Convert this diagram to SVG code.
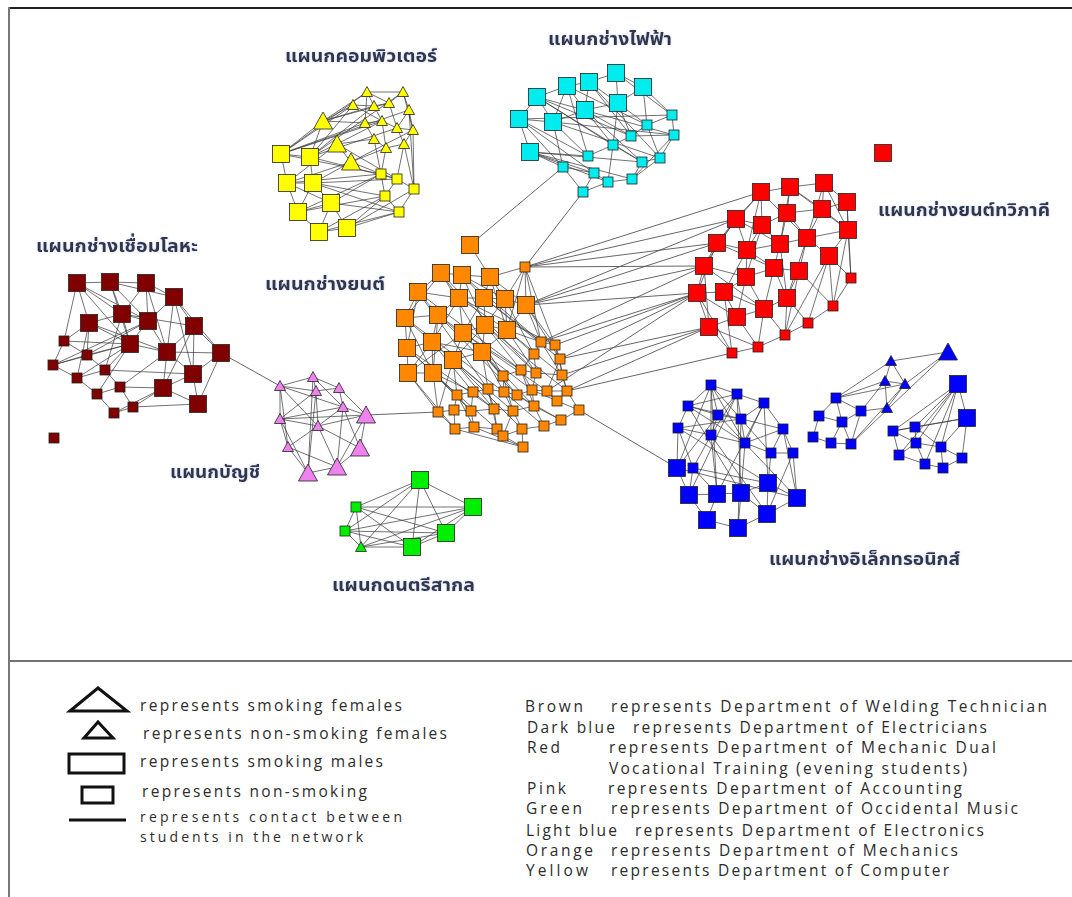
<svg xmlns="http://www.w3.org/2000/svg" xmlns:xlink="http://www.w3.org/1999/xlink" width="1072" height="897" viewBox="0 0 1072 897">
<style>
  .e { fill: none; stroke: #3a3a3a; stroke-width: 0.9; stroke-opacity: 0.8; }
  .x { fill: none; stroke: #555; stroke-width: 0.9; }
  .nd use { stroke: #222; stroke-width: 0.8; }
  .yel { fill: #ffff00; }
  .cya { fill: #00ecef; }
  .red { fill: #ff0000; }
  .brn { fill: #800000; }
  .org { fill: #ff8800; }
  .pnk { fill: #ee82ee; }
  .grn { fill: #00ee00; }
  .blu { fill: #0000ff; }
  .th { font-family: "Noto Sans Thai", "Noto Serif Thai", "Tlwg Typo", "Garuda", "DejaVu Sans", sans-serif; font-weight: bold; font-size: 18px; fill: #34344a; filter: url(#halo); }
  .lg { font-family: "Open Sans", "Liberation Sans", sans-serif; font-size: 15.5px; font-weight: 500; fill: #2c2c2c; }
  .lg.sm { font-size: 14px; }
  .sym { fill: none; stroke: #111; stroke-width: 3; }
</style>
<defs>
  <rect id="sqL" x="-8.5" y="-8.5" width="17" height="17"/>
  <rect id="sqS" x="-5" y="-5" width="10" height="10"/>
  <path id="trL" d="M0,-9 L9.5,8 L-9.5,8 Z"/>
  <path id="trS" d="M0,-5.5 L5.5,4.5 L-5.5,4.5 Z"/>
  <filter id="halo" x="-5%" y="-30%" width="110%" height="160%">
    <feDropShadow dx="0" dy="0" stdDeviation="1" flood-color="#9fb8e6" flood-opacity="0.7"/>
  </filter>
</defs>

<rect width="1072" height="897" fill="#fff"/>

<!-- frame and divider -->
<g id="frame">
  <line x1="9" y1="8" x2="1072" y2="8" stroke="#222" stroke-width="2"/>
  <line x1="9" y1="7" x2="9" y2="897" stroke="#777" stroke-width="2"/>
  <line x1="10" y1="661" x2="1072" y2="661" stroke="#444" stroke-width="1.5"/>
</g>

<!-- connectors -->
<g id="connectors">
  <!-- computer cluster -->
  <path class="e" d="M281 154L323 121M281 154L353 105M281 154L365 123M281 154L310 157M281 154L287 183M281 154L381 174M281 154L382 121M310 157L323 121M310 157L353 105M310 157L374 106M310 157L313 183M310 157L337 144M310 157L397 179M287 183L313 183M287 183L298 212M287 183L337 144M287 183L381 174M313 183L331 203M313 183L351 162M313 183L385 196M313 183L397 179M331 203L319 232M331 203L347 228M331 203L381 174M331 203L399 212M298 212L319 232M298 212L313 183M298 212L385 196M319 232L347 228M319 232L399 212M347 228L385 196M347 228L399 212M347 228L414 189M323 121L353 105M323 121L374 106M323 121L365 123M323 121L367 92M337 144L382 121M337 144L374 139M337 144L351 162M351 162L381 174M351 162L386 148M367 92L403 92M367 92L374 106M367 92L389 103M403 92L409 110M403 92L389 103M353 105L374 106M374 106L389 103M374 106L382 121M389 103L397 128M409 110L413 130M365 123L382 121M382 121L397 128M397 128L413 130M365 123L374 139M382 121L386 148M397 128L404 144M413 130L404 144M374 139L386 148M386 148L404 144M386 148L381 174M404 144L397 179M404 144L414 189M413 130L414 189M381 174L397 179M397 179L414 189M397 179L385 196M385 196L399 212M414 189L399 212M374 139L381 174M409 110L397 128M353 105L382 121M367 92L365 123M403 92L413 130M409 110L414 189M281 154L367 92M310 157L397 128M323 121L389 103M287 183L351 162M298 212L331 203M287 183L331 203M381 174L385 196M313 183L399 212M298 212L381 174M319 232L385 196M281 154L409 110M310 157L403 92M337 144L397 179M351 162L413 130"/>
  <!-- electrical cluster -->
  <path class="e" d="M537 97L567 86M537 97L519 119M537 97L553 122M537 97L613 145M537 97L631 136M567 86L589 82M567 86L585 110M567 86L553 122M589 82L616 73M589 82L585 110M589 82L618 103M616 73L643 87M616 73L618 103M643 87L672 115M643 87L647 125M643 87L618 103M519 119L553 122M519 119L530 152M519 119L563 167M519 119L588 156M553 122L585 110M553 122L588 156M553 122L563 167M585 110L618 103M585 110L613 145M585 110L631 136M618 103L647 125M618 103L631 136M618 103L613 145M530 152L563 167M530 152L588 156M530 152L594 173M530 152L642 162M672 115L647 125M672 115L674 135M647 125L631 136M631 136L674 135M631 136L613 145M674 135L660 158M613 145L588 156M613 145L642 162M642 162L660 158M642 162L632 179M660 158L632 179M563 167L583 192M563 167L594 173M594 173L608 182M608 182L632 179M608 182L583 192M594 173L583 192M632 179L674 135M647 125L660 158M567 86L588 156M537 97L642 162M589 82L631 136M616 73L672 115M519 119L672 115M553 122L674 135M585 110L642 162M613 145L608 182M519 119L594 173M530 152L632 179M553 122L660 158M567 86L647 125M537 97L674 135M589 82L660 158M530 152L608 182"/>
  <!-- mechanic dual vocational cluster -->
  <path class="e" d="M761 192L790 187M790 187L824 183M824 183L847 202M761 192L736 219M761 192L762 225M790 187L787 213M824 183L822 209M847 202L848 230M847 202L822 209M736 219L762 225M762 225L787 213M787 213L822 209M822 209L848 230M736 219L717 243M762 225L747 250M787 213L780 244M822 209L807 238M848 230L829 256M717 243L747 250M747 250L780 244M780 244L807 238M807 238L829 256M717 243L704 266M747 250L746 277M780 244L774 268M807 238L799 271M829 256L851 278M704 266L746 277M746 277L774 268M774 268L799 271M704 266L697 293M746 277L724 292M774 268L787 298M799 271L787 298M697 293L724 292M724 292L764 309M787 298L764 309M697 293L709 327M724 292L737 317M764 309L737 317M737 317L709 327M709 327L732 353M737 317L758 347M764 309L785 335M787 298L808 323M799 271L833 306M829 256L833 306M851 278L833 306M833 306L808 323M808 323L785 335M785 335L758 347M758 347L732 353M848 230L851 278M847 202L851 278M761 192L747 250M790 187L780 244M824 183L807 238M736 219L704 266M762 225L746 277M717 243L697 293M747 250L724 292M780 244L787 298M807 238L787 298M774 268L764 309M746 277L737 317M704 266L709 327M724 292L732 353M764 309L758 347M787 298L785 335M829 256L808 323M848 230L833 306M761 192L717 243M824 183L848 230M790 187L822 209M762 225L780 244M787 213L807 238M747 250L774 268M746 277L764 309M697 293L732 353M709 327L758 347M829 256L785 335M799 271L785 335M848 230L807 238M736 219L747 250M761 192L807 238M736 219L780 244M717 243L774 268M704 266L764 309M697 293L737 317M790 187L848 230"/>
  <!-- welding cluster -->
  <path class="e" d="M77 283L110 282M77 283L89 323M77 283L122 314M77 283L130 344M110 282L146 283M110 282L122 314M110 282L130 344M146 283L174 297M146 283L148 321M146 283L122 314M174 297L194 326M174 297L148 321M174 297L167 352M89 323L122 314M89 323L64 341M89 323L87 355M89 323L130 344M122 314L148 321M122 314L130 344M148 321L167 352M148 321L130 344M194 326L167 352M194 326L221 353M194 326L193 374M130 344L167 352M130 344L105 370M130 344L87 355M167 352L193 374M167 352L163 388M221 353L193 374M221 353L167 352M193 374L163 388M193 374L198 404M163 388L198 404M163 388L133 407M163 388L120 387M64 341L87 355M64 341L53 365M87 355L53 365M87 355L105 370M53 365L77 378M105 370L77 378M105 370L120 387M77 378L97 394M120 387L97 394M120 387L133 407M97 394L114 413M133 407L114 413M53 365L130 344M77 378L130 344M167 352L120 387M198 404L133 407M193 374L105 370M77 283L64 341M122 314L105 370M148 321L87 355M146 283L167 352M174 297L193 374M221 353L198 404M114 413L163 388M89 323L77 378M130 344L97 394M110 282L148 321M194 326L163 388M53 365L148 321M174 297L221 353M77 283L148 321M110 282L174 297M89 323L167 352M122 314L194 326M64 341L130 344"/>
  <!-- mechanics cluster -->
  <path class="e" d="M470 245L490 277M441 273L462 275M441 273L418 292M441 273L459 298M462 275L490 277M462 275L459 298M462 275L484 298M490 277L505 299M490 277L484 298M490 277L525 267M418 292L405 318M418 292L438 315M418 292L459 298M459 298L484 298M459 298L463 333M459 298L438 315M484 298L505 299M484 298L485 325M505 299L526 305M505 299L507 330M526 305L525 267M526 305L541 342M526 305L507 330M405 318L438 315M405 318L407 348M438 315L463 333M438 315L432 342M463 333L485 325M463 333L453 360M485 325L507 330M485 325L482 352M507 330L541 342M507 330L534 354M407 348L432 342M407 348L408 373M432 342L453 360M432 342L433 373M453 360L482 352M453 360L457 395M482 352L503 376M482 352L488 389M408 373L433 373M408 373L438 412M433 373L457 395M433 373L438 412M541 342L555 345M541 342L534 354M555 345L560 359M534 354L521 370M534 354L536 373M560 359L562 375M521 370L503 376M521 370L536 373M503 376L504 392M536 373L562 375M536 373L532 390M562 375L567 391M457 395L473 392M473 392L488 389M488 389L504 392M504 392L517 395M517 395L532 390M532 390L547 391M547 391L567 391M567 391L557 401M547 391L557 401M457 395L454 410M473 392L471 411M488 389L494 409M504 392L513 411M517 395L534 406M532 390L534 406M557 401L579 410M567 391L579 410M438 412L454 410M454 410L471 411M471 411L494 409M494 409L513 411M513 411L534 406M534 406L544 426M438 412L455 429M454 410L455 429M471 411L474 427M494 409L497 429M513 411L522 429M513 411L503 436M455 429L474 427M474 427L497 429M497 429L503 436M503 436L522 429M522 429L544 426M544 426L561 420M561 420L579 410M503 436L523 447M522 429L523 447M474 427L523 447M455 429L523 447"/>
  <path class="e" d="M441 273L503 376M418 292L488 389M405 318L433 373M438 315L482 352M463 333L521 370M485 325L536 373M432 342L473 392M407 348L457 395M462 275L485 325M459 298L507 330M484 298L541 342M505 299L534 354M525 267L507 330M525 267L555 345M525 267L505 299M526 305L560 359M507 330L562 375M482 352L517 395M453 360L494 409M433 373L471 411M463 333L408 373M485 325L453 360M432 342L482 352M438 315L433 373M441 273L405 318M418 292L407 348M459 298L432 342M484 298L463 333M505 299L485 325M490 277L526 305M462 275L505 299M507 330L482 352M482 352L504 392M453 360L488 389M433 373L473 392M408 373L432 342M503 376L513 411M521 370L532 390M488 389L497 429M473 392L494 409M457 395L474 427M463 333L503 376M485 325L521 370M405 318L432 342M407 348L433 373M526 305L555 345M507 330L536 373M482 352L532 390M541 342L562 375M555 345L567 391M560 359L547 391M521 370L534 406M504 392L544 426M457 395L471 411M453 360L438 412M408 373L455 429M517 395L561 420M534 406L561 420M532 390L557 401M441 273L536 373M418 292L521 370M405 318L504 392M438 315L517 395M462 275L541 342M459 298L555 345M432 342L513 411M407 348L494 409M484 298L560 359M463 333L547 391M485 325L567 391M453 360L522 429M482 352L534 406M433 373L497 429M525 267L541 342M490 277L507 330"/>
  <!-- accounting cluster -->
  <path class="e" d="M280 386L313 377M280 386L316 391M280 386L280 419M280 386L318 426M280 386L343 407M313 377L339 388M313 377L316 391M313 377L308 473M313 377L343 407M339 388L343 407M339 388L316 391M316 391L280 419M316 391L318 426M316 391L308 473M343 407L366 415M343 407L360 448M343 407L318 426M343 407L280 419M280 419L318 426M280 419L288 447M280 419L366 415M280 419L308 473M318 426L337 467M318 426L288 447M318 426L366 415M288 447L308 473M288 447L337 467M366 415L360 448M360 448L337 467M337 467L308 473M366 415L337 467M343 407L337 467M318 426L360 448M339 388L366 415M280 386L288 447"/>
  <!-- occidental music cluster -->
  <path class="e" d="M356 507L420 480M356 507L473 507M356 507L446 533M356 507L412 547M356 507L345 531M356 507L361 547M345 531L420 480M345 531L473 507M345 531L412 547M345 531L361 547M345 531L446 533M361 547L420 480M361 547L412 547M361 547L446 533M361 547L473 507M420 480L473 507M420 480L446 533M420 480L412 547M473 507L446 533M473 507L412 547M446 533L412 547"/>
  <!-- electronics clusters -->
  <path class="e" d="M711 385L688 406M711 385L737 394M711 385L718 415M711 385L741 419M711 385L711 435M711 385L745 443M688 406L678 428M688 406L718 415M688 406L737 394M737 394L764 403M737 394L741 419M737 394L718 415M764 403L783 429M764 403L741 419M764 403L745 443M718 415L711 435M718 415L741 419M741 419L745 443M741 419L771 453M678 428L711 435M678 428L677 468M678 428L693 468M711 435L693 468M711 435L717 494M711 435L745 443M783 429L793 453M783 429L771 453M745 443L771 453M771 453L793 453M793 453L797 498M771 453L768 483M745 443L741 493M693 468L689 495M693 468L717 494M677 468L689 495M689 495L717 494M717 494L741 493M741 493L768 483M768 483L797 498M689 495L707 520M707 520L738 528M738 528L767 514M767 514L797 498M741 493L738 528M717 494L707 520M741 493L767 514M768 483L767 514M688 406L741 493M678 428L768 483M737 394L711 435M711 385L717 494M764 403L768 483M783 429L797 498M678 428L741 419M688 406L745 443M718 415L677 468M741 419L738 528M793 453L767 514M737 394L741 493M783 429L745 443M677 468L797 498M693 468L768 483M688 406L783 429M711 385L677 468M718 415L797 498M764 403L717 494M737 394L689 495M711 435L767 514"/>
  <path class="e" d="M948 352L891 361M948 352L905 384M948 352L851 444M891 361L885 381M891 361L905 384M885 381L905 384M885 381L836 398M905 384L836 398M905 384L887 408M885 381L887 408M887 408L861 411M885 381L861 411M836 398L861 411M836 398L842 422M836 398L819 416M861 411L842 422M861 411L851 444M842 422L819 416M819 416L813 437M813 437L831 443M831 443L851 444M842 422L851 444M842 422L831 443M905 384L851 444M891 361L836 398"/>
  <path class="e" d="M958 384L893 431M958 384L915 427M958 384L916 443M958 384L941 447M958 384L967 418M958 384L899 455M967 418L962 458M967 418L893 431M967 418L915 427M967 418L941 447M893 431L915 427M893 431L916 443M893 431L899 455M915 427L916 443M916 443L941 447M916 443L925 464M941 447L943 468M941 447L962 458M899 455L925 464M925 464L943 468M943 468L962 458M915 427L941 447M899 455L916 443M958 384L925 464"/>
  <!-- links between departments -->
  <path class="x" d="M221 353L280 386M366 415L438 412M470 245L563 167M525 267L583 192M579 410L677 468"/>
  <path class="x" d="M525 267L761 192M525 267L736 219M525 267L717 243M525 267L704 266M526 305L736 219M526 305L717 243M526 305L704 266M526 305L697 293M541 342L704 266M541 342L697 293M555 345L697 293M560 359L697 293M560 359L709 327M562 375L709 327M567 391L709 327M567 391L732 353M547 391L697 293"/>
</g>

<!-- computer -->
<g id="dept-computer" class="nd yel">
  <g id="y-t1"><use href="#trS" x="367" y="92"/></g>
  <g id="y-t2"><use href="#trS" x="403" y="92"/></g>
  <g id="y-t3"><use href="#trS" x="353" y="105"/></g>
  <g id="y-t4"><use href="#trS" x="374" y="106"/></g>
  <g id="y-t5"><use href="#trS" x="389" y="103"/></g>
  <g id="y-t6"><use href="#trS" x="409" y="110"/></g>
  <g id="y-t7"><use href="#trS" x="365" y="123"/></g>
  <g id="y-t8"><use href="#trS" x="382" y="121"/></g>
  <g id="y-t9"><use href="#trS" x="397" y="128"/></g>
  <g id="y-t10"><use href="#trS" x="413" y="130"/></g>
  <g id="y-t11"><use href="#trS" x="374" y="139"/></g>
  <g id="y-t12"><use href="#trS" x="386" y="148"/></g>
  <g id="y-t13"><use href="#trS" x="404" y="144"/></g>
  <g id="y-T1"><use href="#trL" x="323" y="121"/></g>
  <g id="y-T2"><use href="#trL" x="337" y="144"/></g>
  <g id="y-T3"><use href="#trL" x="351" y="162"/></g>
  <g id="y-S1"><use href="#sqL" x="281" y="154"/></g>
  <g id="y-S2"><use href="#sqL" x="310" y="157"/></g>
  <g id="y-S3"><use href="#sqL" x="287" y="183"/></g>
  <g id="y-S4"><use href="#sqL" x="313" y="183"/></g>
  <g id="y-S5"><use href="#sqL" x="331" y="203"/></g>
  <g id="y-S6"><use href="#sqL" x="298" y="212"/></g>
  <g id="y-S7"><use href="#sqL" x="319" y="232"/></g>
  <g id="y-S8"><use href="#sqL" x="347" y="228"/></g>
  <g id="y-s1"><use href="#sqS" x="381" y="174"/></g>
  <g id="y-s2"><use href="#sqS" x="397" y="179"/></g>
  <g id="y-s3"><use href="#sqS" x="414" y="189"/></g>
  <g id="y-s4"><use href="#sqS" x="385" y="196"/></g>
  <g id="y-s5"><use href="#sqS" x="399" y="212"/></g>
</g>

<!-- electrical -->
<g id="dept-electrical" class="nd cya">
  <g id="c-S1"><use href="#sqL" x="537" y="97"/></g>
  <g id="c-S2"><use href="#sqL" x="567" y="86"/></g>
  <g id="c-S3"><use href="#sqL" x="589" y="82"/></g>
  <g id="c-S4"><use href="#sqL" x="616" y="73"/></g>
  <g id="c-S5"><use href="#sqL" x="643" y="87"/></g>
  <g id="c-S6"><use href="#sqL" x="519" y="119"/></g>
  <g id="c-S7"><use href="#sqL" x="553" y="122"/></g>
  <g id="c-S8"><use href="#sqL" x="585" y="110"/></g>
  <g id="c-S9"><use href="#sqL" x="618" y="103"/></g>
  <g id="c-S10"><use href="#sqL" x="530" y="152"/></g>
  <g id="c-s1"><use href="#sqS" x="672" y="115"/></g>
  <g id="c-s2"><use href="#sqS" x="647" y="125"/></g>
  <g id="c-s3"><use href="#sqS" x="631" y="136"/></g>
  <g id="c-s4"><use href="#sqS" x="674" y="135"/></g>
  <g id="c-s5"><use href="#sqS" x="613" y="145"/></g>
  <g id="c-s6"><use href="#sqS" x="588" y="156"/></g>
  <g id="c-s7"><use href="#sqS" x="642" y="162"/></g>
  <g id="c-s8"><use href="#sqS" x="660" y="158"/></g>
  <g id="c-s9"><use href="#sqS" x="563" y="167"/></g>
  <g id="c-s10"><use href="#sqS" x="594" y="173"/></g>
  <g id="c-s11"><use href="#sqS" x="608" y="182"/></g>
  <g id="c-s12"><use href="#sqS" x="632" y="179"/></g>
  <g id="c-s13"><use href="#sqS" x="583" y="192"/></g>
</g>

<!-- mechanic dual vocational -->
<g id="dept-dual" class="nd red">
  <g id="r-S0"><use href="#sqL" x="883" y="153"/></g>
  <g id="r-S1"><use href="#sqL" x="761" y="192"/></g>
  <g id="r-S2"><use href="#sqL" x="790" y="187"/></g>
  <g id="r-S3"><use href="#sqL" x="824" y="183"/></g>
  <g id="r-S4"><use href="#sqL" x="847" y="202"/></g>
  <g id="r-S5"><use href="#sqL" x="736" y="219"/></g>
  <g id="r-S6"><use href="#sqL" x="762" y="225"/></g>
  <g id="r-S7"><use href="#sqL" x="787" y="213"/></g>
  <g id="r-S8"><use href="#sqL" x="822" y="209"/></g>
  <g id="r-S9"><use href="#sqL" x="848" y="230"/></g>
  <g id="r-S10"><use href="#sqL" x="717" y="243"/></g>
  <g id="r-S11"><use href="#sqL" x="747" y="250"/></g>
  <g id="r-S12"><use href="#sqL" x="780" y="244"/></g>
  <g id="r-S13"><use href="#sqL" x="807" y="238"/></g>
  <g id="r-S14"><use href="#sqL" x="829" y="256"/></g>
  <g id="r-S15"><use href="#sqL" x="704" y="266"/></g>
  <g id="r-S16"><use href="#sqL" x="746" y="277"/></g>
  <g id="r-S17"><use href="#sqL" x="774" y="268"/></g>
  <g id="r-S18"><use href="#sqL" x="799" y="271"/></g>
  <g id="r-S19"><use href="#sqL" x="697" y="293"/></g>
  <g id="r-S20"><use href="#sqL" x="724" y="292"/></g>
  <g id="r-S21"><use href="#sqL" x="787" y="298"/></g>
  <g id="r-S22"><use href="#sqL" x="764" y="309"/></g>
  <g id="r-S23"><use href="#sqL" x="737" y="317"/></g>
  <g id="r-S24"><use href="#sqL" x="709" y="327"/></g>
  <g id="r-s1"><use href="#sqS" x="851" y="278"/></g>
  <g id="r-s2"><use href="#sqS" x="833" y="306"/></g>
  <g id="r-s3"><use href="#sqS" x="808" y="323"/></g>
  <g id="r-s4"><use href="#sqS" x="785" y="335"/></g>
  <g id="r-s5"><use href="#sqS" x="758" y="347"/></g>
  <g id="r-s6"><use href="#sqS" x="732" y="353"/></g>
</g>

<!-- welding -->
<g id="dept-welding" class="nd brn">
  <g id="b-S1"><use href="#sqL" x="77" y="283"/></g>
  <g id="b-S2"><use href="#sqL" x="110" y="282"/></g>
  <g id="b-S3"><use href="#sqL" x="146" y="283"/></g>
  <g id="b-S4"><use href="#sqL" x="174" y="297"/></g>
  <g id="b-S5"><use href="#sqL" x="89" y="323"/></g>
  <g id="b-S6"><use href="#sqL" x="122" y="314"/></g>
  <g id="b-S7"><use href="#sqL" x="148" y="321"/></g>
  <g id="b-S8"><use href="#sqL" x="194" y="326"/></g>
  <g id="b-S9"><use href="#sqL" x="130" y="344"/></g>
  <g id="b-S10"><use href="#sqL" x="167" y="352"/></g>
  <g id="b-S11"><use href="#sqL" x="221" y="353"/></g>
  <g id="b-S12"><use href="#sqL" x="193" y="374"/></g>
  <g id="b-S13"><use href="#sqL" x="163" y="388"/></g>
  <g id="b-S14"><use href="#sqL" x="198" y="404"/></g>
  <g id="b-s1"><use href="#sqS" x="64" y="341"/></g>
  <g id="b-s2"><use href="#sqS" x="87" y="355"/></g>
  <g id="b-s3"><use href="#sqS" x="53" y="365"/></g>
  <g id="b-s4"><use href="#sqS" x="105" y="370"/></g>
  <g id="b-s5"><use href="#sqS" x="77" y="378"/></g>
  <g id="b-s6"><use href="#sqS" x="120" y="387"/></g>
  <g id="b-s7"><use href="#sqS" x="97" y="394"/></g>
  <g id="b-s8"><use href="#sqS" x="133" y="407"/></g>
  <g id="b-s9"><use href="#sqS" x="114" y="413"/></g>
  <g id="b-s10"><use href="#sqS" x="54" y="438"/></g>
</g>

<!-- mechanics -->
<g id="dept-mechanics" class="nd org">
  <g id="o-S1"><use href="#sqL" x="470" y="245"/></g>
  <g id="o-S2"><use href="#sqL" x="441" y="273"/></g>
  <g id="o-S3"><use href="#sqL" x="462" y="275"/></g>
  <g id="o-S4"><use href="#sqL" x="490" y="277"/></g>
  <g id="o-S5"><use href="#sqL" x="418" y="292"/></g>
  <g id="o-S6"><use href="#sqL" x="459" y="298"/></g>
  <g id="o-S7"><use href="#sqL" x="484" y="298"/></g>
  <g id="o-S8"><use href="#sqL" x="505" y="299"/></g>
  <g id="o-S9"><use href="#sqL" x="526" y="305"/></g>
  <g id="o-S10"><use href="#sqL" x="405" y="318"/></g>
  <g id="o-S11"><use href="#sqL" x="438" y="315"/></g>
  <g id="o-S12"><use href="#sqL" x="463" y="333"/></g>
  <g id="o-S13"><use href="#sqL" x="485" y="325"/></g>
  <g id="o-S14"><use href="#sqL" x="507" y="330"/></g>
  <g id="o-S15"><use href="#sqL" x="407" y="348"/></g>
  <g id="o-S16"><use href="#sqL" x="432" y="342"/></g>
  <g id="o-S17"><use href="#sqL" x="453" y="360"/></g>
  <g id="o-S18"><use href="#sqL" x="482" y="352"/></g>
  <g id="o-S19"><use href="#sqL" x="408" y="373"/></g>
  <g id="o-S20"><use href="#sqL" x="433" y="373"/></g>
  <g id="o-s1"><use href="#sqS" x="525" y="267"/></g>
  <g id="o-s2"><use href="#sqS" x="541" y="342"/></g>
  <g id="o-s3"><use href="#sqS" x="555" y="345"/></g>
  <g id="o-s4"><use href="#sqS" x="534" y="354"/></g>
  <g id="o-s5"><use href="#sqS" x="560" y="359"/></g>
  <g id="o-s6"><use href="#sqS" x="521" y="370"/></g>
  <g id="o-s7"><use href="#sqS" x="503" y="376"/></g>
  <g id="o-s8"><use href="#sqS" x="536" y="373"/></g>
  <g id="o-s9"><use href="#sqS" x="562" y="375"/></g>
  <g id="o-s10"><use href="#sqS" x="457" y="395"/></g>
  <g id="o-s11"><use href="#sqS" x="473" y="392"/></g>
  <g id="o-s12"><use href="#sqS" x="488" y="389"/></g>
  <g id="o-s13"><use href="#sqS" x="504" y="392"/></g>
  <g id="o-s14"><use href="#sqS" x="517" y="395"/></g>
  <g id="o-s15"><use href="#sqS" x="532" y="390"/></g>
  <g id="o-s16"><use href="#sqS" x="547" y="391"/></g>
  <g id="o-s17"><use href="#sqS" x="567" y="391"/></g>
  <g id="o-s18"><use href="#sqS" x="557" y="401"/></g>
  <g id="o-s19"><use href="#sqS" x="438" y="412"/></g>
  <g id="o-s20"><use href="#sqS" x="454" y="410"/></g>
  <g id="o-s21"><use href="#sqS" x="471" y="411"/></g>
  <g id="o-s22"><use href="#sqS" x="494" y="409"/></g>
  <g id="o-s23"><use href="#sqS" x="513" y="411"/></g>
  <g id="o-s24"><use href="#sqS" x="534" y="406"/></g>
  <g id="o-s25"><use href="#sqS" x="579" y="410"/></g>
  <g id="o-s26"><use href="#sqS" x="455" y="429"/></g>
  <g id="o-s27"><use href="#sqS" x="474" y="427"/></g>
  <g id="o-s28"><use href="#sqS" x="497" y="429"/></g>
  <g id="o-s29"><use href="#sqS" x="503" y="436"/></g>
  <g id="o-s30"><use href="#sqS" x="522" y="429"/></g>
  <g id="o-s31"><use href="#sqS" x="544" y="426"/></g>
  <g id="o-s32"><use href="#sqS" x="561" y="420"/></g>
  <g id="o-s33"><use href="#sqS" x="523" y="447"/></g>
</g>

<!-- accounting -->
<g id="dept-accounting" class="nd pnk">
  <g id="p-t1"><use href="#trS" x="280" y="386"/></g>
  <g id="p-t2"><use href="#trS" x="313" y="377"/></g>
  <g id="p-t3"><use href="#trS" x="339" y="388"/></g>
  <g id="p-t4"><use href="#trS" x="316" y="391"/></g>
  <g id="p-t5"><use href="#trS" x="343" y="407"/></g>
  <g id="p-t6"><use href="#trS" x="280" y="419"/></g>
  <g id="p-t7"><use href="#trS" x="318" y="426"/></g>
  <g id="p-t8"><use href="#trS" x="288" y="447"/></g>
  <g id="p-T1"><use href="#trL" x="366" y="415"/></g>
  <g id="p-T2"><use href="#trL" x="360" y="448"/></g>
  <g id="p-T3"><use href="#trL" x="337" y="467"/></g>
  <g id="p-T4"><use href="#trL" x="308" y="473"/></g>
</g>

<!-- occidental music -->
<g id="dept-music" class="nd grn">
  <g id="g-S1"><use href="#sqL" x="420" y="480"/></g>
  <g id="g-S2"><use href="#sqL" x="473" y="507"/></g>
  <g id="g-S3"><use href="#sqL" x="446" y="533"/></g>
  <g id="g-S4"><use href="#sqL" x="412" y="547"/></g>
  <g id="g-s1"><use href="#sqS" x="356" y="507"/></g>
  <g id="g-s2"><use href="#sqS" x="345" y="531"/></g>
  <g id="g-t1"><use href="#trS" x="361" y="547"/></g>
</g>

<!-- electronics -->
<g id="dept-electronics" class="nd blu">
  <g id="l-s1"><use href="#sqS" x="711" y="385"/></g>
  <g id="l-s2"><use href="#sqS" x="688" y="406"/></g>
  <g id="l-s3"><use href="#sqS" x="737" y="394"/></g>
  <g id="l-s4"><use href="#sqS" x="764" y="403"/></g>
  <g id="l-s5"><use href="#sqS" x="718" y="415"/></g>
  <g id="l-s6"><use href="#sqS" x="741" y="419"/></g>
  <g id="l-s7"><use href="#sqS" x="678" y="428"/></g>
  <g id="l-s8"><use href="#sqS" x="711" y="435"/></g>
  <g id="l-s9"><use href="#sqS" x="783" y="429"/></g>
  <g id="l-s10"><use href="#sqS" x="745" y="443"/></g>
  <g id="l-s11"><use href="#sqS" x="771" y="453"/></g>
  <g id="l-s12"><use href="#sqS" x="793" y="453"/></g>
  <g id="l-s13"><use href="#sqS" x="693" y="468"/></g>
  <g id="l-S1"><use href="#sqL" x="677" y="468"/></g>
  <g id="l-S2"><use href="#sqL" x="689" y="495"/></g>
  <g id="l-S3"><use href="#sqL" x="717" y="494"/></g>
  <g id="l-S4"><use href="#sqL" x="741" y="493"/></g>
  <g id="l-S5"><use href="#sqL" x="768" y="483"/></g>
  <g id="l-S6"><use href="#sqL" x="797" y="498"/></g>
  <g id="l-S7"><use href="#sqL" x="707" y="520"/></g>
  <g id="l-S8"><use href="#sqL" x="738" y="528"/></g>
  <g id="l-S9"><use href="#sqL" x="767" y="514"/></g>
  <g id="m-T1"><use href="#trL" x="948" y="352"/></g>
  <g id="m-t1"><use href="#trS" x="891" y="361"/></g>
  <g id="m-t2"><use href="#trS" x="885" y="381"/></g>
  <g id="m-t3"><use href="#trS" x="905" y="384"/></g>
  <g id="m-t4"><use href="#trS" x="887" y="408"/></g>
  <g id="m-s1"><use href="#sqS" x="836" y="398"/></g>
  <g id="m-s2"><use href="#sqS" x="861" y="411"/></g>
  <g id="m-s3"><use href="#sqS" x="842" y="422"/></g>
  <g id="m-s4"><use href="#sqS" x="819" y="416"/></g>
  <g id="m-s5"><use href="#sqS" x="813" y="437"/></g>
  <g id="m-s6"><use href="#sqS" x="831" y="443"/></g>
  <g id="m-s7"><use href="#sqS" x="851" y="444"/></g>
  <g id="q-S1"><use href="#sqL" x="958" y="384"/></g>
  <g id="q-S2"><use href="#sqL" x="967" y="418"/></g>
  <g id="q-s1"><use href="#sqS" x="893" y="431"/></g>
  <g id="q-s2"><use href="#sqS" x="915" y="427"/></g>
  <g id="q-s3"><use href="#sqS" x="916" y="443"/></g>
  <g id="q-s4"><use href="#sqS" x="941" y="447"/></g>
  <g id="q-s5"><use href="#sqS" x="899" y="455"/></g>
  <g id="q-s6"><use href="#sqS" x="925" y="464"/></g>
  <g id="q-s7"><use href="#sqS" x="943" y="468"/></g>
  <g id="q-s8"><use href="#sqS" x="962" y="458"/></g>
</g>

<!-- department labels -->
<g id="labels">
  <text class="th" x="548" y="45" textLength="124" lengthAdjust="spacingAndGlyphs">แผนกช่างไฟฟ้า</text>
  <text class="th" x="285" y="62" textLength="152" lengthAdjust="spacingAndGlyphs">แผนกคอมพิวเตอร์</text>
  <text class="th" x="878" y="216" textLength="172" lengthAdjust="spacingAndGlyphs">แผนกช่างยนต์ทวิภาคี</text>
  <text class="th" x="36" y="252" textLength="162" lengthAdjust="spacingAndGlyphs">แผนกช่างเชื่อมโลหะ</text>
  <text class="th" x="265" y="290" textLength="120" lengthAdjust="spacingAndGlyphs">แผนกช่างยนต์</text>
  <text class="th" x="170" y="478" textLength="90" lengthAdjust="spacingAndGlyphs">แผนกบัญชี</text>
  <text class="th" x="332" y="591" textLength="143" lengthAdjust="spacingAndGlyphs">แผนกดนตรีสากล</text>
  <text class="th" x="769" y="565" textLength="191" lengthAdjust="spacingAndGlyphs">แผนกช่างอิเล็กทรอนิกส์</text>
</g>

<!-- legend: shapes -->
<g id="legend-shapes">
  <path class="sym" d="M70 711 L98 688 L127 711 Z"/>
  <path class="sym" d="M84 738 L98 722 L113 738 Z"/>
  <rect class="sym" x="69" y="754" width="55" height="19"/>
  <rect class="sym" x="82" y="787" width="31" height="16"/>
  <line class="sym" x1="69" y1="820" x2="126" y2="820"/>
  <text class="lg" x="140" y="711" textLength="262">represents smoking females</text>
  <text class="lg" x="143" y="739" textLength="304">represents non-smoking females</text>
  <text class="lg" x="140" y="767" textLength="243">represents smoking males</text>
  <text class="lg" x="142" y="797" textLength="225">represents non-smoking</text>
  <text class="lg sm" x="140" y="822" textLength="262">represents contact between</text>
  <text class="lg sm" x="140" y="842" textLength="223">students in the network</text>
</g>

<!-- legend: colours -->
<g id="legend-colours">
  <text class="lg" x="525" y="712" textLength="58">Brown</text>
  <text class="lg" x="611" y="712" textLength="436">represents  Department of Welding Technician</text>
  <text class="lg" x="527" y="733" textLength="88">Dark blue</text>
  <text class="lg" x="633" y="733" textLength="354">represents Department of Electricians</text>
  <text class="lg" x="527" y="753" textLength="33">Red</text>
  <text class="lg" x="609" y="753" textLength="387">represents Department of Mechanic Dual</text>
  <text class="lg" x="609" y="774" textLength="358">Vocational Training (evening students)</text>
  <text class="lg" x="527" y="794" textLength="39">Pink</text>
  <text class="lg" x="608" y="794" textLength="354">represents Department of Accounting</text>
  <text class="lg" x="526" y="814" textLength="56">Green</text>
  <text class="lg" x="611" y="814" textLength="407">represents Department of Occidental Music</text>
  <text class="lg" x="526" y="836" textLength="91">Light blue</text>
  <text class="lg" x="635" y="836" textLength="349">represents Department of Electronics</text>
  <text class="lg" x="526" y="856" textLength="67">Orange</text>
  <text class="lg" x="611" y="856" textLength="347">represents Department of Mechanics</text>
  <text class="lg" x="526" y="876" textLength="62">Yellow</text>
  <text class="lg" x="611" y="876" textLength="338">represents Department of Computer</text>
</g>
</svg>
